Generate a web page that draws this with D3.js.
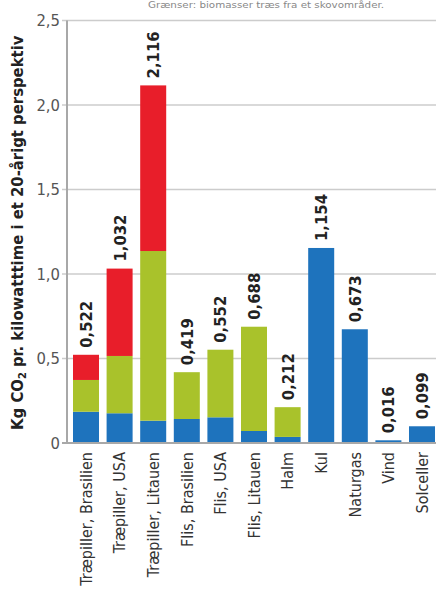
<!DOCTYPE html>
<html>
<head>
<meta charset="utf-8">
<script src="https://cdn.jsdelivr.net/npm/d3@7"></script>
<style>
  html, body { margin: 0; padding: 0; background: #fff; }
  svg { display: block; }
  text { font-family: "DejaVu Sans Condensed", "Liberation Sans Narrow", "Roboto", sans-serif; }
</style>
</head>
<body>
<script>
// Data
const categories = ["Træpiller, Brasilien", "Træpiller, USA", "Træpiller, Litauen",
  "Flis, Brasilien", "Flis, USA", "Flis, Litauen", "Halm", "Kul", "Naturgas", "Vind", "Solceller"];
const blue  = [0.185, 0.176, 0.132, 0.142, 0.152, 0.071, 0.036, 1.154, 0.673, 0.016, 0.099];
const green = [0.188, 0.339, 1.004, 0.277, 0.400, 0.617, 0.176, 0, 0, 0, 0];
const red   = [0.149, 0.517, 0.980, 0, 0, 0, 0, 0, 0, 0, 0];
const totals = ["0,522", "1,032", "2,116", "0,419", "0,552", "0,688", "0,212", "1,154", "0,673", "0,016", "0,099"];
const yTicks = [0, 0.5, 1.0, 1.5, 2.0, 2.5];
const yTickLabels = ["0", "0,5", "1,0", "1,5", "2,0", "2,5"];
const seriesKeys = ["blue", "green", "red"];
const seriesColors = ["#1e73bd", "#a9c22b", "#e81e2a"];

const WIDTH = 436, HEIGHT = 591;
const X0 = 67, BASE_Y = 443, TOP_Y = 20.5;

const svg = d3.select("body").append("svg")
  .attr("width", WIDTH)
  .attr("height", HEIGHT);

// caption line at top (mostly cropped in the original)
svg.append("text")
  .attr("x", 148)
  .attr("y", 8)
  .attr("font-size", 9)
  .attr("textLength", 236)
  .attr("lengthAdjust", "spacingAndGlyphs")
  .attr("fill", "#888")
  .text("Grænser: biomasser træs fra et skovområder.");

const x = d3.scaleBand()
  .domain(categories)
  .range([69.2, 438.8])
  .paddingInner(0.226)
  .paddingOuter(0.113);

const y = d3.scaleLinear()
  .domain([0, 2.5])
  .range([BASE_Y, TOP_Y]);

// gridlines
svg.append("g")
  .selectAll("line")
  .data(yTicks.filter(d => d > 0))
  .enter()
  .append("line")
  .attr("x1", 62)
  .attr("x2", WIDTH)
  .attr("y1", d => y(d))
  .attr("y2", d => y(d))
  .attr("stroke", "#cccccc")
  .attr("stroke-width", 1.5);

// vertical axis line
svg.append("line")
  .attr("x1", X0).attr("x2", X0)
  .attr("y1", TOP_Y).attr("y2", BASE_Y)
  .attr("stroke", "#a8a8a8")
  .attr("stroke-width", 2);

// tick labels
svg.append("g")
  .selectAll("text")
  .data(yTicks)
  .enter()
  .append("text")
  .attr("x", 60)
  .attr("y", d => y(d))
  .attr("dy", "0.35em")
  .attr("text-anchor", "end")
  .attr("font-size", 16.5)
  .attr("fill", "#555")
  .text((d, i) => yTickLabels[i]);

// stacked bars
const rows = categories.map((c, i) => ({ cat: c, blue: blue[i], green: green[i], red: red[i] }));
const stacked = d3.stack().keys(seriesKeys)(rows);

svg.append("g")
  .selectAll("g")
  .data(stacked)
  .enter()
  .append("g")
  .attr("fill", (d, i) => seriesColors[i])
  .selectAll("rect")
  .data(d => d.filter(s => s[1] - s[0] > 0))
  .enter()
  .append("rect")
  .attr("x", d => x(d.data.cat))
  .attr("width", x.bandwidth())
  .attr("y", d => y(d[1]))
  .attr("height", d => y(d[0]) - y(d[1]));

// baseline
svg.append("line")
  .attr("x1", 62).attr("x2", WIDTH)
  .attr("y1", BASE_Y).attr("y2", BASE_Y)
  .attr("stroke", "#a8a8a8")
  .attr("stroke-width", 2);

// value labels
svg.append("g")
  .selectAll("text")
  .data(rows)
  .enter()
  .append("text")
  .attr("transform", d => {
    const top = d.blue + d.green + d.red;
    return "translate(" + (x(d.cat) + x.bandwidth() / 2) + "," + (y(top) - 7) + ") rotate(-90)";
  })
  .attr("dy", "0.36em")
  .attr("font-size", 16.5)
  .attr("font-weight", "bold")
  .attr("fill", "#222")
  .text((d, i) => totals[i]);

// category labels
svg.append("g")
  .selectAll("text")
  .data(categories)
  .enter()
  .append("text")
  .attr("transform", d => "translate(" + (x(d) + x.bandwidth() / 2) + "," + (BASE_Y + 9) + ") rotate(-90)")
  .attr("dy", "0.36em")
  .attr("text-anchor", "end")
  .attr("font-size", 16)
  .attr("fill", "#333")
  .text(d => d);

// y axis title
const title = svg.append("text")
  .attr("transform", "translate(17," + ((TOP_Y + BASE_Y) / 2 + 1) + ") rotate(-90)")
  .attr("dy", "0.36em")
  .attr("text-anchor", "middle")
  .attr("font-size", 16.5)
  .attr("font-weight", "bold")
  .attr("fill", "#222");
title.append("tspan").text("Kg CO");
title.append("tspan").attr("font-size", 11).attr("baseline-shift", "-3").text("2");
title.append("tspan").text(" pr. kilowatttime i et 20-årigt perspektiv");
</script>
</body>
</html>
